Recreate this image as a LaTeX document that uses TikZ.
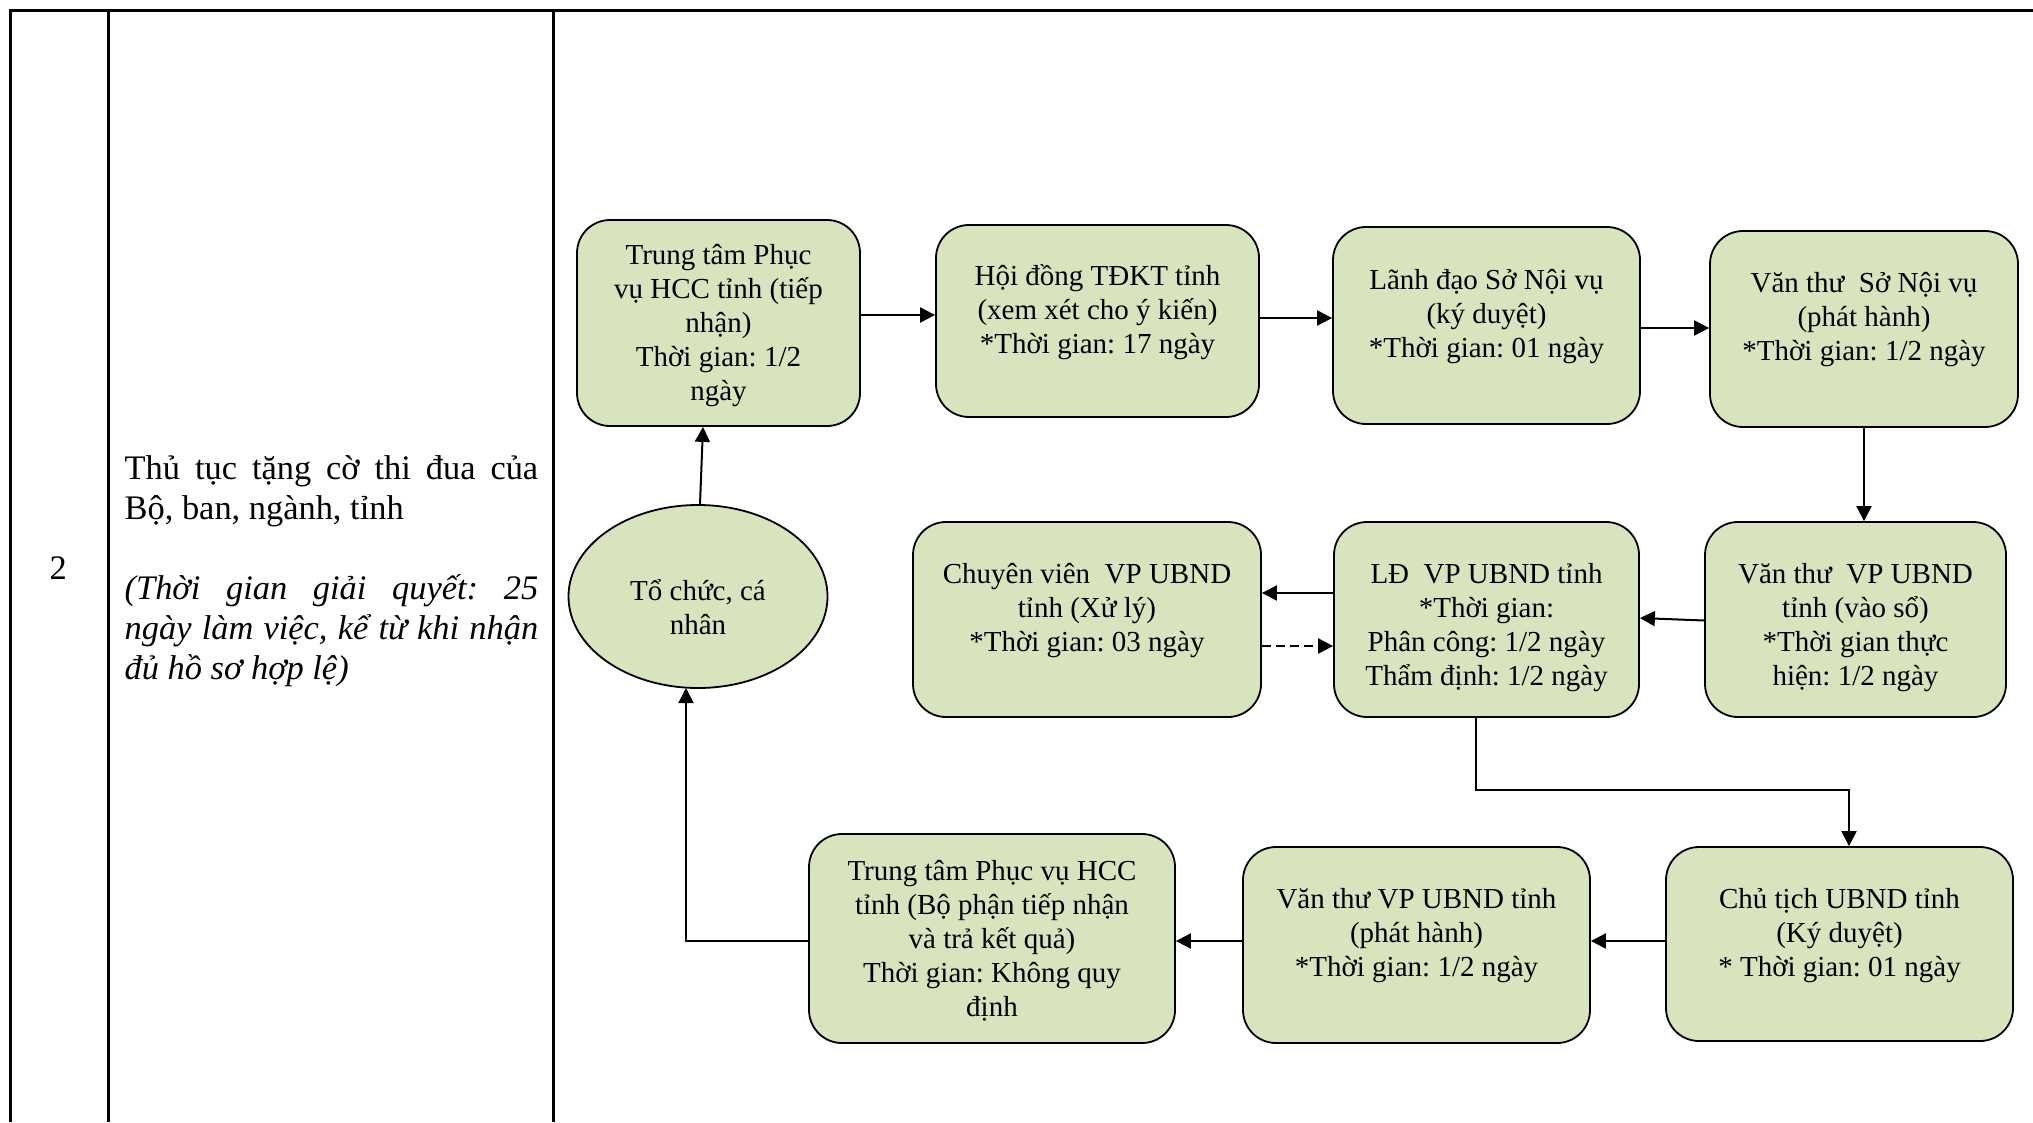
\documentclass[tikz,border=0pt]{standalone}
\usepackage{fontspec}
\setmainfont{Liberation Serif}
\usetikzlibrary{arrows.meta,calc,shapes.geometric}
\definecolor{boxgreen}{HTML}{D7E4BD}
\newcommand{\btext}[1]{\begin{tabular}[t]{@{}c@{}}#1\end{tabular}}
\frenchspacing
\begin{document}
\frenchspacing
\begin{tikzpicture}[x=1bp,y=-1bp,
  stepbox/.style={draw=black, line width=1.8bp, fill=boxgreen, rounded corners=33bp, inner sep=0pt},
  boxlbl/.style={inner sep=0pt, anchor=base, font=\fontsize{29bp}{34bp}\selectfont\frenchspacing},
  conn/.style={line width=2bp, -{Triangle[length=15bp,width=15bp]}},
  gridline/.style={line width=3bp}
]
\useasboundingbox (0,0) rectangle (2033,1122);
\fill[white] (0,0) rectangle (2033,1122);

% table
\draw[gridline] (8.5,10.5) -- (2033,10.5);
\draw[gridline] (10,9) -- (10,1122);
\draw[gridline] (108.5,9) -- (108.5,1122);
\draw[gridline] (553.6,9) -- (553.6,1122);

\node[inner sep=0pt, anchor=base, font=\fontsize{34.4bp}{40bp}\selectfont] (num) at (58.3,579) {2};
\node[inner sep=0pt, anchor=base west, font=\fontsize{34.4bp}{40bp}\selectfont\frenchspacing] (desc) at (124.5,479.5)
 {\begin{minipage}[t]{413.5bp}\frenchspacing\tolerance=10000\hyphenpenalty=10000\emergencystretch=20bp
 Thủ tục tặng cờ thi đua của\linebreak Bộ, ban, ngành, tỉnh\par
 \vspace{40bp}
 \textit{(Thời gian giải quyết: 25\linebreak ngày làm việc, kể từ khi nhận\linebreak đủ hồ sơ hợp lệ)}
 \end{minipage}};

% boxes
\node[stepbox, minimum width=283bp, minimum height=206bp] (b1) at (718.5,323) {};
\node[stepbox, minimum width=323bp, minimum height=192bp] (b2) at (1097.5,321) {};
\node[stepbox, minimum width=307bp, minimum height=197bp] (b3) at (1486.5,325.5) {};
\node[stepbox, minimum width=308bp, minimum height=196bp] (b4) at (1864,329) {};
\node[stepbox, minimum width=301bp, minimum height=195bp] (b5) at (1855.5,619.5) {};
\node[stepbox, minimum width=305bp, minimum height=195bp] (b6) at (1486.5,619.5) {};
\node[stepbox, minimum width=348bp, minimum height=195bp] (b7) at (1087,619.5) {};
\node[stepbox, minimum width=347bp, minimum height=194bp] (b8) at (1839.5,944) {};
\node[stepbox, minimum width=347bp, minimum height=196bp] (b9) at (1416.5,945) {};
\node[stepbox, minimum width=366bp, minimum height=209bp] (b10) at (992,938.5) {};
\node[ellipse, draw=black, line width=1.8bp, fill=boxgreen, minimum width=259bp, minimum height=183bp, inner sep=0pt] (ell) at (698,596.5) {};

% box texts
\node[boxlbl] (t1) at (718.5,264) {\btext{Trung tâm Phục\\ vụ HCC tỉnh (tiếp\\ nhận)\\ Thời gian: 1/2\\ ngày}};
\node[boxlbl] (t2) at (1097.5,285) {\btext{Hội đồng TĐKT tỉnh\\ (xem xét cho ý kiến)\\{}*Thời gian: 17 ngày}};
\node[boxlbl] (t3) at (1486.5,289) {\btext{Lãnh đạo Sở Nội vụ\\ (ký duyệt)\\{}*Thời gian: 01 ngày}};
\node[boxlbl] (t4) at (1864,292) {\btext{Văn thư\ \ Sở Nội vụ\\ (phát hành)\\{}*Thời gian: 1/2 ngày}};
\node[boxlbl] (t5) at (1855.5,583) {\btext{Văn thư\ \ VP UBND\\ tỉnh (vào sổ)\\{}*Thời gian thực\\ hiện: 1/2 ngày}};
\node[boxlbl] (t6) at (1486.5,583) {\btext{LĐ\ \ VP UBND tỉnh\\{}*Thời gian:\\ Phân công: 1/2 ngày\\ Thẩm định: 1/2 ngày}};
\node[boxlbl] (t7) at (1087,583) {\btext{Chuyên viên\ \ VP UBND\\ tỉnh (Xử lý)\\{}*Thời gian: 03 ngày}};
\node[boxlbl] (t8) at (1839.5,908) {\btext{Chủ tịch UBND tỉnh\\ (Ký duyệt)\\{}* Thời gian: 01 ngày}};
\node[boxlbl] (t9) at (1416.5,908) {\btext{Văn thư VP UBND tỉnh\\ (phát hành)\\{}*Thời gian: 1/2 ngày}};
\node[boxlbl] (t10) at (992,880) {\btext{Trung tâm Phục vụ HCC\\ tỉnh (Bộ phận tiếp nhận\\ và trả kết quả)\\ Thời gian: Không quy\\ định}};
\node[boxlbl] (te) at (698,600.5) {\btext{Tổ chức, cá\\ nhân}};

% helper coordinates
\coordinate (r1) at (0,315);
\coordinate (r2) at (0,318);
\coordinate (r3) at (0,328);
\coordinate (ya) at (0,593);
\coordinate (yb) at (0,646);
\coordinate (yc) at (0,941);
\coordinate (c1) at (1476,790);
\coordinate (c2) at (1849,790);
\coordinate (c3) at (686,941);
\coordinate (ellb) at (686,688);

% connectors
\draw[conn] (b1.east |- r1) -- (b2.west |- r1);
\draw[conn] (b2.east |- r2) -- (b3.west |- r2);
\draw[conn] (b3.east |- r3) -- (b4.west |- r3);
\draw[conn] (b4.south) -- (b4.south |- b5.north);
\draw[conn] ($(b5.west)+(0,1)$) -- ($(b6.east)+(0,-1.5)$);
\draw[conn] (b6.west |- ya) -- (b7.east |- ya);
\draw[conn, dash pattern=on 9bp off 5bp] (b7.east |- yb) -- (b6.west |- yb);
\draw[conn] (b6.south -| c1) -- (c1) -- (c2) -- (c2 |- b8.north);
\draw[conn] (b8.west |- yc) -- (b9.east |- yc);
\draw[conn] (b9.west |- yc) -- (b10.east |- yc);
\draw[conn] (b10.west |- yc) -- (c3) -- (ellb);
\draw[conn] ($(ell.north)+(2,0)$) -- ($(b1.south)+(-15.5,0)$);
\end{tikzpicture}
\end{document}
